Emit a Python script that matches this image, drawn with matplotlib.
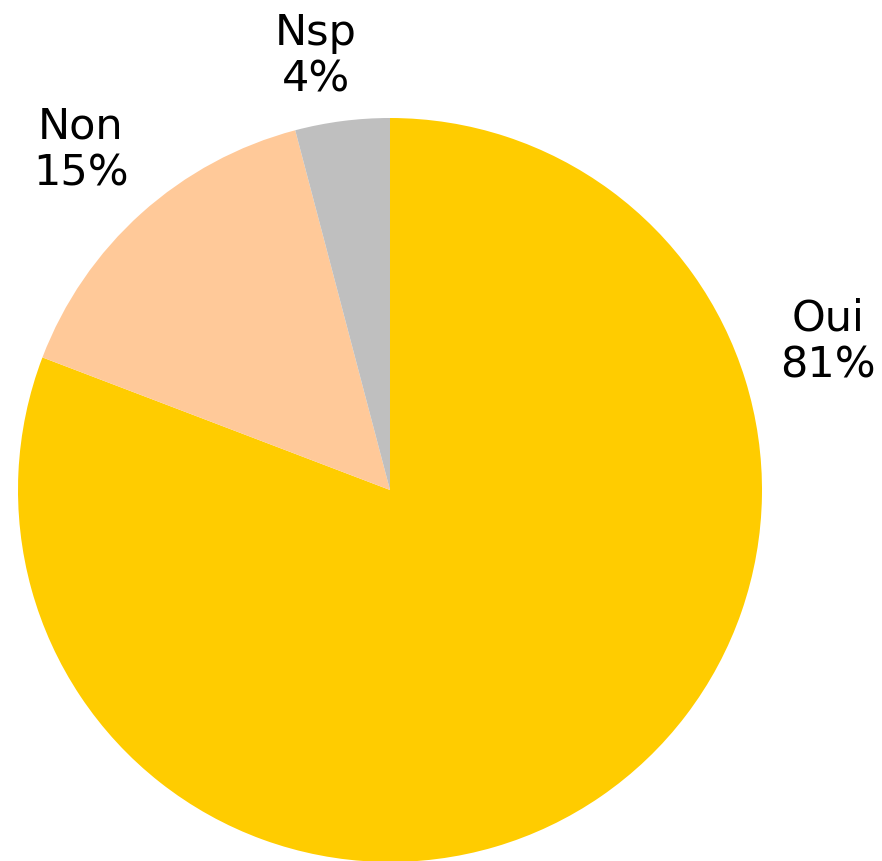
import matplotlib
matplotlib.use("Agg")
import matplotlib.pyplot as plt

categories = ["Oui", "Non", "Nsp"]
values = [80.8, 15.1, 4.1]
shown = [81, 15, 4]
colors = ["#FFCC00", "#FFC999", "#BFBFBF"]
label_pos = [(828, 484), (81, 676), (316, 769)]

fig = plt.figure(figsize=(8.82, 8.61), dpi=100)
ax = fig.add_axes([0, 0, 1, 1])
ax.pie(values, colors=colors, startangle=90, counterclock=False,
       center=(390, 371), radius=372, wedgeprops=dict(linewidth=0))
ax.set_xlim(0, 882)
ax.set_ylim(0, 861)
ax.set_aspect("equal")
ax.axis("off")
for cat, v, (x, y) in zip(categories, shown, label_pos):
    ax.text(x, y, f"{cat}\n{v}%", ha="center", va="baseline", fontsize=31,
            family="DejaVu Sans", linespacing=1.15, multialignment="center")
fig.savefig("out.png", dpi=100)
